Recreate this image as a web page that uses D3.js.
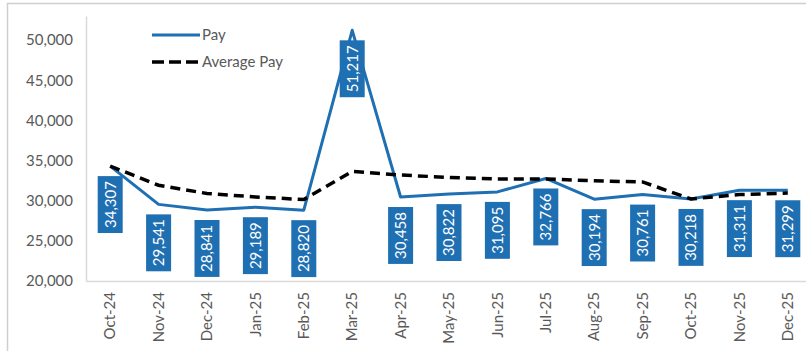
<!DOCTYPE html>
<html>
<head>
<meta charset="utf-8">
<script src="https://cdn.jsdelivr.net/npm/d3@7/dist/d3.min.js"></script>
<style>
  html, body { margin: 0; padding: 0; background: #fff; }
  svg { display: block; font-family: Lato, "Open Sans", sans-serif; }
</style>
</head>
<body>
<svg id="chart" width="806" height="351"></svg>
<script>
// Monthly pay and fiscal-year-to-date average pay
const months = ["Oct-24", "Nov-24", "Dec-24", "Jan-25", "Feb-25", "Mar-25", "Apr-25",
                "May-25", "Jun-25", "Jul-25", "Aug-25", "Sep-25", "Oct-25", "Nov-25", "Dec-25"];
const pay = [34307, 29541, 28841, 29189, 28820, 51217, 30458,
             30822, 31095, 32766, 30194, 30761, 30218, 31311, 31299];
const averagePay = [34307, 31924, 30896, 30470, 30140, 33653, 33196,
                    32899, 32699, 32706, 32477, 32334, 30218, 30765, 30943];
const yTicks = [20000, 25000, 30000, 35000, 40000, 45000, 50000];
const seriesNames = ["Pay", "Average Pay"];

const svg = d3.select("#chart");
const blue = "#1f6fb3";
const grey = "#595959";

// frame around the chart
svg.append("path")
  .attr("d", "M7.5,352 V3.5 H808")
  .attr("fill", "none")
  .attr("stroke", "#cfcfcf")
  .attr("stroke-width", 1.5);

const x = d3.scaleBand().domain(months).range([86, 812]).padding(0);
const y = d3.scaleLinear().domain([20000, 53000]).range([281, 16]);
const cx = m => x(m) + x.bandwidth() / 2;

// y axis
const yAxis = svg.append("g").attr("transform", "translate(86,0)")
  .call(d3.axisLeft(y).tickValues(yTicks).tickSize(0).tickPadding(13)
    .tickFormat(d3.format(",")));
yAxis.select(".domain").attr("stroke", "#d9d9d9").attr("stroke-width", 1.5);
yAxis.selectAll("text").attr("fill", grey).style("font-size", "15px")
  .style("font-family", "Lato, sans-serif");

// x axis
const xAxis = svg.append("g").attr("transform", "translate(0,281)")
  .call(d3.axisBottom(x).tickSize(0).tickPadding(0));
xAxis.select(".domain").attr("stroke", "#d9d9d9").attr("stroke-width", 1.5);
xAxis.selectAll("text")
  .attr("fill", grey).style("font-size", "15px").style("font-family", "Lato, sans-serif")
  .attr("text-anchor", "end")
  .attr("dy", "0.35em")
  .attr("transform", "translate(0,11) rotate(-90)")
  .attr("x", 0).attr("y", 0);

// series lines
const line = d3.line().x((d, i) => cx(months[i])).y(d => y(d));

svg.append("path").datum(pay)
  .attr("d", line)
  .attr("fill", "none")
  .attr("stroke", blue)
  .attr("stroke-width", 3)
  .attr("stroke-linejoin", "round");

svg.append("path").datum(averagePay)
  .attr("d", line)
  .attr("fill", "none")
  .attr("stroke", "#000")
  .attr("stroke-width", 3.5)
  .attr("stroke-dasharray", "10,6");

// value labels below each pay point
const fmt = d3.format(",");
const labels = svg.append("g");
pay.forEach((v, i) => {
  const px = cx(months[i]);
  const g = labels.append("g");
  const rect = g.append("rect").attr("fill", blue);
  const t = g.append("text")
    .text(fmt(v))
    .attr("fill", "#fff")
    .style("font-size", "15px")
    .attr("text-anchor", "middle")
    .attr("dy", "0.36em");
  const len = t.node().getComputedTextLength();
  const h = len + 10, w = 25;
  const top = y(v) + 10;
  rect.attr("x", px - w / 2).attr("y", top).attr("width", w).attr("height", h);
  t.attr("transform", `translate(${px},${top + h / 2}) rotate(-90)`);
});

// legend
const legend = svg.append("g");
const legendItems = [
  { name: seriesNames[0], stroke: blue, dash: null, w: 3, y: 35 },
  { name: seriesNames[1], stroke: "#000", dash: "12,5", w: 3.5, y: 62 }
];
legendItems.forEach(it => {
  legend.append("line")
    .attr("x1", 152).attr("x2", 200).attr("y1", it.y).attr("y2", it.y)
    .attr("stroke", it.stroke).attr("stroke-width", it.w)
    .attr("stroke-dasharray", it.dash);
  legend.append("text")
    .attr("x", 202).attr("y", it.y).attr("dy", "0.35em")
    .attr("fill", grey).style("font-size", "15px")
    .text(it.name);
});
</script>
</body>
</html>
